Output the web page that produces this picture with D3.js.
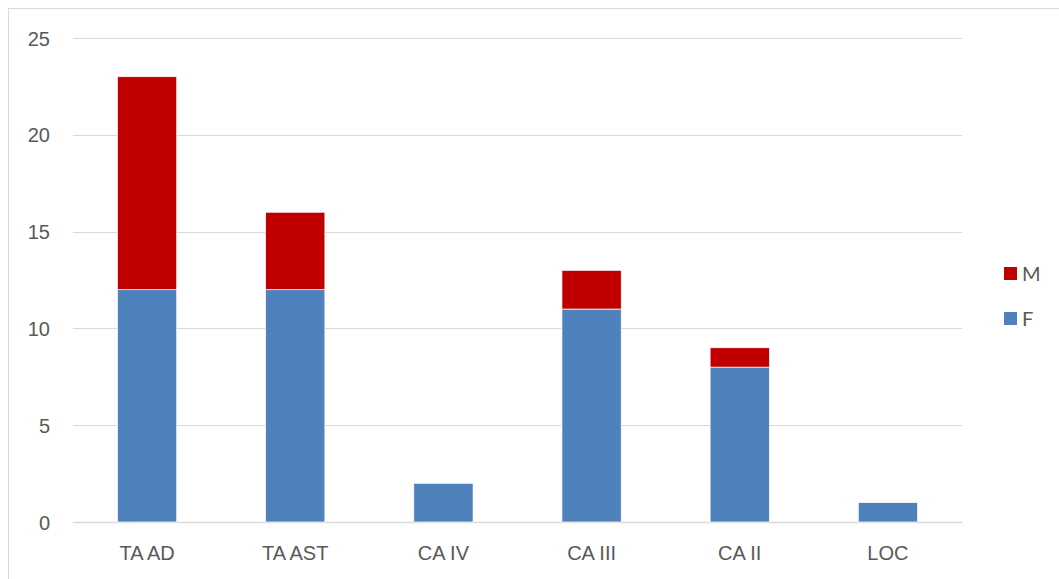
<!DOCTYPE html>
<html><head><meta charset="utf-8">
<script src="https://cdn.jsdelivr.net/npm/d3@7"></script>
<style>body{margin:0;background:#fff;}svg{display:block;font-family:Lato,"Open Sans",sans-serif;}</style>
</head><body>
<svg id="c" width="1059" height="579"></svg>
<script>
const categories = ["TA AD","TA AST","CA IV","CA III","CA II","LOC"];
const seriesF = [12,12,2,11,8,1];
const seriesM = [11,4,0,2,1,0];
const yTicks = [0,5,10,15,20,25];
const seriesNames = ["F","M"];
const colors = {F:"#4F81BD", M:"#C00000"};

const svg = d3.select("#c");
svg.append("rect").attr("x",8.5).attr("y",8.5).attr("width",1060).attr("height",600)
  .attr("fill","#fff").attr("stroke","#d9d9d9").attr("stroke-width",1);

const m = {l:73,r:962,t:38,b:522};
const x = d3.scaleBand().domain(categories).range([m.l,m.r]).paddingInner(0.6).paddingOuter(0.3);
const y = d3.scaleLinear().domain([0,25]).range([m.b,m.t]);

const grid = svg.append("g");
grid.selectAll("line").data(yTicks).join("line")
  .attr("x1",m.l).attr("x2",m.r).attr("y1",d=>Math.round(y(d))+0.5).attr("y2",d=>Math.round(y(d))+0.5)
  .attr("stroke","#d9d9d9").attr("stroke-width",d=>d===0?1.5:1);

const yAxis = svg.append("g").attr("transform",`translate(${m.l-23},0)`)
  .call(d3.axisLeft(y).tickValues(yTicks).tickSize(0).tickPadding(0));
yAxis.select(".domain").remove();
yAxis.selectAll("text").attr("fill","#595959").style("font-size","20px").attr("dy","0.35em");

const data = categories.map((c,i)=>({cat:c,F:seriesF[i],M:seriesM[i]}));
const stacked = d3.stack().keys(seriesNames)(data);
svg.append("g").selectAll("g").data(stacked).join("g").attr("fill",d=>colors[d.key])
  .selectAll("rect").data(d=>d).join("rect")
  .attr("x",d=>x(d.data.cat)).attr("width",x.bandwidth())
  .attr("y",d=>y(d[1])).attr("height",d=>y(d[0])-y(d[1]))
  .attr("stroke","#fff").attr("stroke-width",0.7);

const xAxis = svg.append("g").attr("transform",`translate(0,${m.b+31})`)
  .call(d3.axisBottom(x).tickSize(0).tickPadding(0));
xAxis.select(".domain").remove();
xAxis.selectAll("text").attr("fill","#595959").style("font-size","20px").attr("dy","0.35em");

const leg = [{k:"M",y:274},{k:"F",y:319}];
const lg = svg.append("g");
lg.selectAll("rect").data(leg).join("rect").attr("x",1004).attr("y",d=>d.y-7).attr("width",13).attr("height",13).attr("fill",d=>colors[d.k]);
lg.selectAll("text").data(leg).join("text").attr("x",1022).attr("y",d=>d.y).attr("dy","0.35em")
  .attr("fill","#595959").style("font-size","20px").text(d=>d.k);
</script>
</body></html>
